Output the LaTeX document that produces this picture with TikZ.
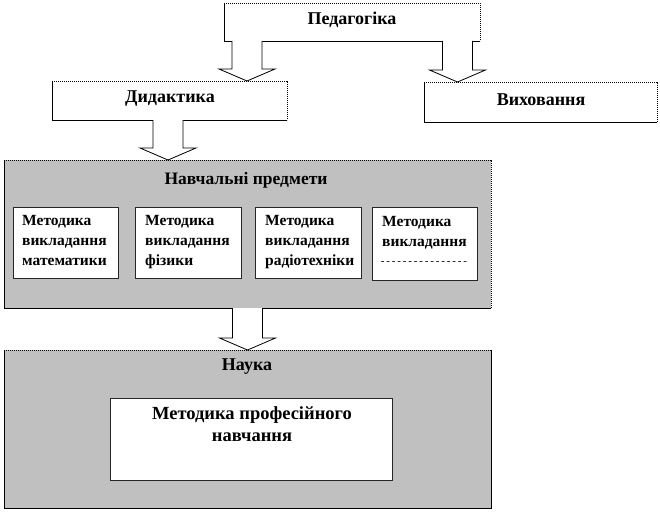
\documentclass[tikz,border=0pt]{standalone}
\usepackage{fontspec}
\setmainfont{Liberation Serif}[BoldFont={Liberation Serif Bold}]
\usetikzlibrary{calc}
\definecolor{boxgray}{HTML}{C0C0C0}
\tikzset{
  x=1pt, y=-1pt,
  ttl/.style={font=\fontsize{18}{20}\selectfont\bfseries, inner sep=0pt},
  sub/.style={font=\fontsize{15.5}{20}\selectfont\bfseries, align=left, inner sep=0pt, anchor=north west},
  innerbox/.style={draw=black!85, line width=0.9pt, fill=white},
  solidedge/.style={draw=black, line width=0.8pt},
  dotedge/.style={draw=black, line width=0.7pt, dash pattern=on 1.2pt off 0.8pt},
  barrow/.style={draw=black, line width=0.8pt, fill=white, line join=miter},
}
\newcommand\framebx[2]{% #1 top-left, #2 bottom-right
  \draw[solidedge] (#1) |- (#2);
  \draw[dotedge] (#1) -| (#2);
}
\newcommand\blockarr[2]{%
  \draw[barrow] let \p1=(#1), \p2=(#2) in
    (\x1-15pt,\y1) -- (\x1-15pt,\y2+12pt) -- (\x1-28pt,\y2+12pt) -- (\x2,\y2)
    -- (\x1+28pt,\y2+12pt) -- (\x1+15pt,\y2+12pt) -- (\x1+15pt,\y1);
}
\begin{document}
\begin{tikzpicture}
\useasboundingbox (0,0) rectangle (660,511);
% top boxes
\coordinate (pedTL) at (224,3); \coordinate (pedBR) at (480,41);
\coordinate (didTL) at (52,81); \coordinate (didBR) at (287,120);
\coordinate (vykTL) at (424,82); \coordinate (vykBR) at (657,122);
\fill[white] (pedTL) rectangle (pedBR);
\framebx{pedTL}{pedBR}
\node[ttl] (ped) at (352,20) {Педагогіка};
\fill[white] (didTL) rectangle (didBR);
\framebx{didTL}{didBR}
\node[ttl] (did) at (170,99) {Дидактика};
\fill[white] (vykTL) rectangle (vykBR);
\framebx{vykTL}{vykBR}
\node[ttl] (vyk) at (541,100) {Виховання};
% subjects panel
\coordinate (navTL) at (4,160); \coordinate (navBR) at (491,308);
\fill[boxgray] (navTL) rectangle (navBR);
\framebx{navTL}{navBR}
\node[ttl, font=\fontsize{17.5}{20}\selectfont\bfseries] (nav) at (246,180) {Навчальні предмети};
\draw[innerbox] (13,207) rectangle (118,278);
\draw[innerbox] (135,207) rectangle (241,278);
\draw[innerbox] (255,207) rectangle (361,278);
\draw[innerbox] (372,207) rectangle (477,280);
\node[sub] (m1) at (22,215) {Методика\\викладання\\математики};
\node[sub] (m2) at (145,215) {Методика\\викладання\\фізики};
\node[sub] (m3) at (265,215) {Методика\\викладання\\радіотехніки};
\node[sub] (m4) at (382,216) {Методика\\викладання};
\node[font=\fontsize{11}{12}\selectfont, inner sep=0pt] (dash) at (424,263) {-\,-\,-\,-\,-\,-\,-\,-\,-\,-\,-\,-\,-\,-\,-\,-};
% science panel
\coordinate (nauTL) at (4,350); \coordinate (nauBR) at (491,508);
\fill[boxgray] (nauTL) rectangle (nauBR);
\draw[solidedge] (nauTL) |- (nauBR) -- (nauBR |- nauTL);
\draw[dotedge] (nauTL) -- (nauBR |- nauTL);
\node[ttl] (nau) at (247,367) {Наука};
\draw[innerbox, line width=0.8pt] (110,398) rectangle (392,480);
\node[font=\fontsize{18.5}{22.5}\selectfont\bfseries, align=center, inner sep=0pt, anchor=north] (mpn) at (252,406) {Методика професійного\\навчання};
% block arrows
\coordinate (a1s) at (247,41);  \coordinate (a1e) at (247,81);
\coordinate (a2s) at (457.5,41); \coordinate (a2e) at (457.5,82);
\coordinate (a3s) at (168,120); \coordinate (a3e) at (168,160);
\coordinate (a4s) at (247.5,308); \coordinate (a4e) at (247.5,350);
\blockarr{a1s}{a1e}
\blockarr{a2s}{a2e}
\blockarr{a3s}{a3e}
\blockarr{a4s}{a4e}
\end{tikzpicture}
\end{document}
